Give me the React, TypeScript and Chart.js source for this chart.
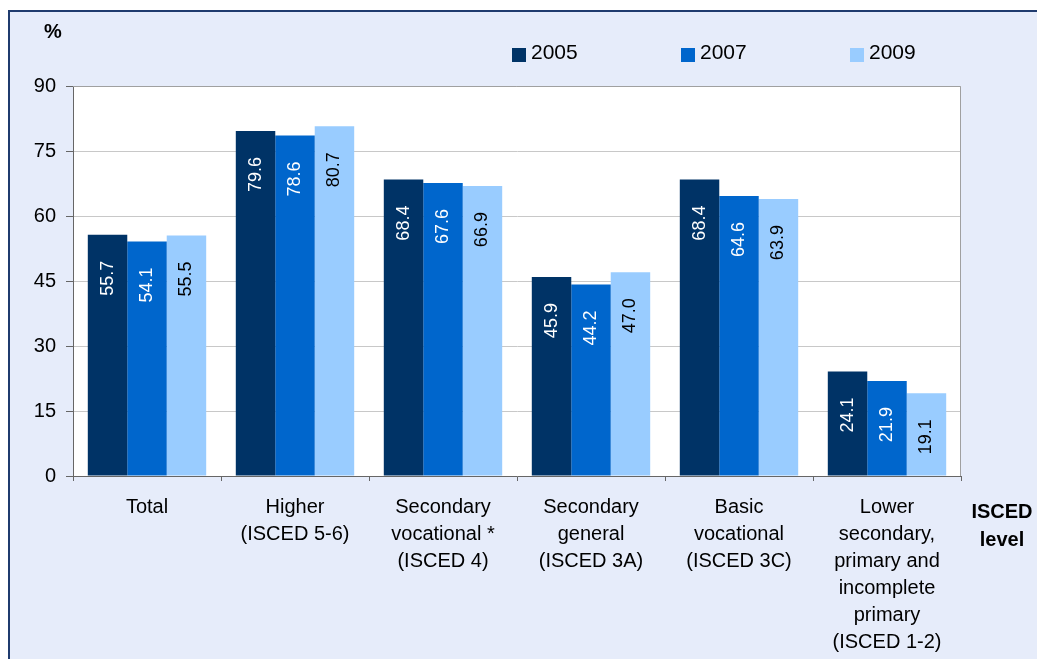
import React, { useEffect, useRef } from 'react';
import { Chart, registerables } from 'chart.js';

Chart.register(...registerables);

const W = 1037;
const H = 659;

const categories: string[][] = [
  ['Total'],
  ['Higher', '(ISCED 5-6)'],
  ['Secondary', 'vocational *', '(ISCED 4)'],
  ['Secondary', 'general', '(ISCED 3A)'],
  ['Basic', 'vocational', '(ISCED 3C)'],
  ['Lower', 'secondary,', 'primary and', 'incomplete', 'primary', '(ISCED 1-2)'],
];

const seriesNames = ['2005', '2007', '2009'];
const values2005 = [55.7, 79.6, 68.4, 45.9, 68.4, 24.1];
const values2007 = [54.1, 78.6, 67.6, 44.2, 64.6, 21.9];
const values2009 = [55.5, 80.7, 66.9, 47.0, 63.9, 19.1];
const yTicks = [0, 15, 30, 45, 60, 75, 90];

const barColors = ['#003366', '#0066CC', '#99CCFF'];
const valueLabelColors = ['#FFFFFF', '#FFFFFF', '#000000'];
const FONT = '"Liberation Sans", Arial, sans-serif';

const decorPlugin = {
  id: 'decor',
  beforeDraw(chart: any) {
    const ctx = chart.ctx;
    const a = chart.chartArea;
    ctx.save();
    ctx.fillStyle = '#FFFFFF';
    ctx.fillRect(0, 0, W, H);
    ctx.fillStyle = '#E6ECFA';
    ctx.fillRect(9, 11, W, H);
    ctx.strokeStyle = '#1F3B6E';
    ctx.lineWidth = 2;
    ctx.beginPath();
    ctx.moveTo(9, H + 5);
    ctx.lineTo(9, 11);
    ctx.lineTo(W + 5, 11);
    ctx.stroke();
    ctx.fillStyle = '#FFFFFF';
    ctx.fillRect(a.left, a.top, a.right - a.left, a.bottom - a.top);
    ctx.restore();
  },
  beforeDatasetsDraw(chart: any) {
    const ctx = chart.ctx;
    const a = chart.chartArea;
    ctx.save();
    ctx.strokeStyle = '#A0A0A0';
    ctx.lineWidth = 1;
    ctx.beginPath();
    ctx.moveTo(a.left, a.top + 0.5);
    ctx.lineTo(a.right - 0.5, a.top + 0.5);
    ctx.lineTo(a.right - 0.5, a.bottom);
    ctx.stroke();
    ctx.restore();
  },
  afterDatasetsDraw(chart: any) {
    const ctx = chart.ctx;
    ctx.save();
    ctx.font = `18px ${FONT}`;
    chart.data.datasets.forEach((ds: any, i: number) => {
      const meta = chart.getDatasetMeta(i);
      ctx.fillStyle = valueLabelColors[i];
      meta.data.forEach((bar: any, j: number) => {
        const v = ds.data[j] as number;
        ctx.save();
        ctx.translate(bar.x, bar.y + 26);
        ctx.rotate(-Math.PI / 2);
        ctx.textAlign = 'right';
        ctx.textBaseline = 'middle';
        ctx.fillText(v.toFixed(1), 0, 0);
        ctx.restore();
      });
    });
    ctx.restore();
  },
  afterDraw(chart: any) {
    const ctx = chart.ctx;
    ctx.save();
    // legend
    const legendX = [512, 681, 850];
    ctx.font = `21px ${FONT}`;
    ctx.textBaseline = 'alphabetic';
    ctx.textAlign = 'left';
    seriesNames.forEach((name, i) => {
      ctx.fillStyle = barColors[i];
      ctx.fillRect(legendX[i], 48, 14, 14);
      ctx.fillStyle = '#000000';
      ctx.fillText(name, legendX[i] + 19, 59);
    });
    // axis titles
    ctx.font = `bold 20px ${FONT}`;
    ctx.textAlign = 'center';
    ctx.fillText('%', 53, 38);
    ctx.fillText('ISCED', 1002, 518);
    ctx.fillText('level', 1002, 546);
    ctx.restore();
  },
};

export default function App() {
  const ref = useRef<HTMLCanvasElement | null>(null);
  useEffect(() => {
    if (!ref.current) return;
    Chart.defaults.font.family = FONT;
    const chart = new Chart(ref.current, {
      type: 'bar',
      data: {
        labels: categories,
        datasets: [values2005, values2007, values2009].map((d, i) => ({
          label: seriesNames[i],
          data: d,
          backgroundColor: barColors[i],
          borderWidth: 0,
          barPercentage: 1,
          categoryPercentage: 0.8,
        })),
      },
      options: {
        responsive: false,
        animation: false,
        devicePixelRatio: 1,
        layout: { padding: { top: 86, right: 76, left: 0, bottom: 0 } },
        plugins: {
          legend: { display: false },
          tooltip: { enabled: false },
          title: { display: false },
        },
        scales: {
          x: {
            afterFit: (s: any) => {
              s.height = 183;
            },
            grid: {
              offset: true,
              drawOnChartArea: false,
              drawTicks: true,
              tickLength: 5,
              tickColor: '#666666',
            },
            border: { color: '#666666', width: 1 },
            ticks: {
              autoSkip: false,
              maxRotation: 0,
              minRotation: 0,
              padding: 13,
              color: '#000000',
              font: { size: 20, lineHeight: 1.35 },
            },
          },
          y: {
            min: yTicks[0],
            max: yTicks[yTicks.length - 1],
            afterFit: (s: any) => {
              s.width = 73;
            },
            grid: {
              color: '#C8C8C8',
              tickColor: '#666666',
              tickLength: 7,
              drawTicks: true,
            },
            border: { color: '#666666', width: 1 },
            ticks: {
              stepSize: yTicks[1] - yTicks[0],
              padding: 10,
              color: '#000000',
              font: { size: 20 },
            },
          },
        },
      },
      plugins: [decorPlugin],
    });
    return () => chart.destroy();
  }, []);
  return (
    <div style={{ position: 'absolute', left: 0, top: 0, width: W, height: H }}>
      <canvas ref={ref} width={W} height={H} style={{ display: 'block', width: W, height: H }} />
    </div>
  );
}
